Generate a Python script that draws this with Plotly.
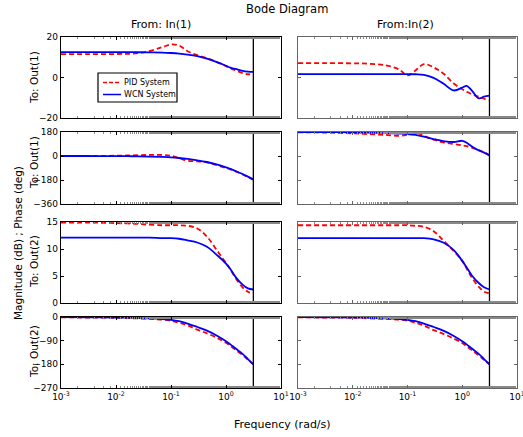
import plotly.graph_objects as go
from plotly.subplots import make_subplots

# ---------------- data ----------------
freq = [0.001, 0.003, 0.01, 0.02, 0.04, 0.07, 0.1, 0.14, 0.2, 0.3, 0.45, 0.7,
        1.0, 1.2, 1.5, 2.0, 2.5, 3.14]
nyquist = 3.1416

# row 1: magnitude Out(1)
mag11_wcn = [12.5, 12.5, 12.5, 12.5, 12.4, 12.3, 12.1, 11.8, 11.3, 10.5, 9.3, 7.5,
             5.8, 4.9, 4.2, 3.3, 2.9, 2.8]
mag11_pid = [11.5, 11.5, 11.6, 11.8, 13.0, 15.0, 16.3, 15.8, 13.0, 11.0, 9.5, 7.5,
             5.6, 4.6, 3.5, 2.2, 1.6, 1.5]
mag12_wcn = [1.7, 1.7, 1.7, 1.7, 1.7, 1.7, 1.7, 1.6, 1.3, -0.2, -3.0, -6.4,
             -5.0, -4.1, -6.5, -10.3, -9.5, -9.0]
mag12_pid = [7.1, 7.1, 7.0, 6.8, 6.0, 4.0, 1.0, 3.5, 6.6, 5.0, 2.0, -3.0,
             -5.8, -7.0, -8.3, -9.5, -10.5, -11.3]
# row 2: phase Out(1)
ph11_wcn = [0, 0, -1, -2, -4, -7, -10, -15, -22, -32, -45, -65,
            -85, -97, -113, -135, -155, -175]
ph11_pid = [0, 0, 2, 5, 8, 8, 2, -15, -35, -40, -48, -70,
            -90, -100, -115, -138, -158, -177]
ph12_wcn = [180, 179, 177, 175, 172, 168, 165, 158, 145, 127, 112, 105,
            114, 100, 72, 42, 25, 5]
ph12_pid = [178, 176, 170, 164, 158, 152, 160, 176, 150, 122, 103, 90,
            80, 74, 62, 45, 28, 5]
# row 3: magnitude Out(2)
mag21_wcn = [12.1, 12.1, 12.1, 12.1, 12.1, 12.0, 12.0, 11.9, 11.6, 11.2, 10.4, 8.8,
             7.3, 6.3, 4.8, 3.4, 2.7, 2.5]
mag21_pid = [14.9, 14.9, 14.8, 14.7, 14.5, 14.4, 14.4, 14.4, 14.3, 13.8, 12.3, 9.6,
             7.4, 6.2, 4.6, 2.9, 2.1, 1.7]
mag22_wcn = [12.0, 12.0, 12.0, 12.0, 12.0, 12.0, 12.0, 12.0, 12.0, 11.8, 11.2, 9.8,
             7.8, 6.6, 5.1, 3.7, 2.9, 2.5]
mag22_pid = [14.4, 14.4, 14.4, 14.4, 14.4, 14.4, 14.4, 14.3, 14.1, 13.3, 11.6, 9.6,
             7.8, 6.4, 4.7, 3.0, 2.1, 1.8]
# row 4: phase Out(2)
ph21_wcn = [0, -1, -2, -3, -5, -8, -11, -16, -25, -38, -52, -72,
            -92, -104, -120, -140, -160, -180]
ph21_pid = [-1, -2, -3, -5, -7, -10, -14, -22, -32, -48, -62, -80,
            -98, -110, -125, -145, -162, -180]
ph22_wcn = [0, -1, -2, -3, -5, -8, -11, -16, -25, -38, -52, -72,
            -92, -104, -120, -140, -160, -180]
ph22_pid = [-1, -2, -3, -5, -7, -10, -14, -22, -33, -50, -64, -82,
            -99, -111, -126, -146, -163, -180]

series_names = ["PID System", "WCN System"]
row_ranges = [[-20, 20], [-360, 180], [0, 15], [-270, 0]]
row_ticks = [[-20, 0, 20], [-360, -180, 0, 180], [0, 5, 10, 15], [-270, -180, -90, 0]]
xtick_vals = [0.001, 0.01, 0.1, 1, 10]
xtick_text = ["10<sup>-3</sup>", "10<sup>-2</sup>", "10<sup>-1</sup>",
              "10<sup>0</sup>", "10<sup>1</sup>"]

panels = [
    (1, 1, mag11_pid, mag11_wcn), (1, 2, mag12_pid, mag12_wcn),
    (2, 1, ph11_pid, ph11_wcn), (2, 2, ph12_pid, ph12_wcn),
    (3, 1, mag21_pid, mag21_wcn), (3, 2, mag22_pid, mag22_wcn),
    (4, 1, ph21_pid, ph21_wcn), (4, 2, ph22_pid, ph22_wcn),
]

W, H = 523, 437
col_px = [(61, 281), (298, 517)]
row_px = [(37, 118), (132, 204), (222, 303), (317, 388)]
PID_STYLE = dict(color="#ff0000", width=1.8, dash="5px,3px")
WCN_STYLE = dict(color="#0000ff", width=1.8)

fig = make_subplots(rows=4, cols=2)
FONT = "DejaVu Sans"

for (r, c, pid, wcn) in panels:
    fig.add_trace(go.Scatter(x=freq, y=pid, mode="lines", name=series_names[0],
                             line=dict(**PID_STYLE, shape="spline"),
                             showlegend=False), row=r, col=c)
    fig.add_trace(go.Scatter(x=freq, y=wcn, mode="lines", name=series_names[1],
                             line=dict(**WCN_STYLE, shape="spline"),
                             showlegend=False), row=r, col=c)
    lo, hi = row_ranges[r - 1]
    fig.add_trace(go.Scatter(x=[nyquist, nyquist], y=[lo, hi], mode="lines",
                             line=dict(color="black", width=1.3), showlegend=False,
                             hoverinfo="skip"), row=r, col=c)

for r in range(1, 5):
    for c in range(1, 3):
        x0, x1 = col_px[c - 1]
        y0, y1 = row_px[r - 1]
        lc = "black" if c == 1 else "#666666"
        fig.update_xaxes(row=r, col=c, type="log", range=[-3, 1],
                         domain=[x0 / W, x1 / W], automargin=False,
                         showgrid=False, zeroline=False,
                         showline=True, mirror="allticks", linecolor=lc, linewidth=1.3,
                         ticks="inside", ticklen=3, tickcolor=lc,
                         tickvals=xtick_vals, ticktext=xtick_text,
                         ticklabeloverflow="allow",
                         showticklabels=(r == 4),
                         minor=dict(ticks="inside", ticklen=1.5, tickcolor="#888888",
                                    tickwidth=0.6, showgrid=False),
                         tickfont=dict(family=FONT, size=9, color="black"))
        fig.update_yaxes(row=r, col=c, range=row_ranges[r - 1],
                         domain=[1 - y1 / H, 1 - y0 / H], automargin=False,
                         tickvals=row_ticks[r - 1],
                         showgrid=False, zeroline=False,
                         showline=True, mirror="allticks", linecolor=lc, linewidth=1.3,
                         ticks="inside", ticklen=3, tickcolor=lc,
                         showticklabels=(c == 1),
                         tickfont=dict(family=FONT, size=9, color="black"))

ann = [
    dict(text="Bode Diagram", x=287 / W, y=1 - 9 / H, size=11.5),
    dict(text="From: In(1)", x=161 / W, y=1 - 24 / H, size=11),
    dict(text="From:In(2)", x=405 / W, y=1 - 24 / H, size=11),
    dict(text="Frequency (rad/s)", x=282 / W, y=1 - 424 / H, size=11),
]
for a in ann:
    fig.add_annotation(text=a["text"], x=a["x"], y=a["y"], xref="paper", yref="paper",
                       showarrow=False, xanchor="center", yanchor="middle",
                       font=dict(family=FONT, size=a["size"], color="black"))

vann = [
    dict(text="To: Out(1)", x=34 / W, y=1 - 78 / H),
    dict(text="To: Out(1)", x=34 / W, y=1 - 163 / H),
    dict(text="To: Out(2)", x=34 / W, y=1 - 262 / H),
    dict(text="To: Out(2)", x=34 / W, y=1 - 352 / H),
]
for a in vann:
    fig.add_annotation(text=a["text"], x=a["x"], y=a["y"], xref="paper", yref="paper",
                       showarrow=False, textangle=-90, xanchor="center", yanchor="middle",
                       font=dict(family=FONT, size=10.5, color="black"))
fig.add_annotation(text="Magnitude (dB) ; Phase (deg)", x=18 / W, y=1 - 243 / H,
                   xref="paper", yref="paper", showarrow=False, textangle=-90,
                   xanchor="center", yanchor="middle",
                   font=dict(family=FONT, size=10.5, color="black"))

# legend box (drawn in paper space to match the compact MATLAB legend)
LX0, LX1, LY0, LY1 = 98, 177, 73, 102
fig.add_shape(type="rect", xref="paper", yref="paper",
              x0=LX0 / W, x1=LX1 / W, y0=1 - LY1 / H, y1=1 - LY0 / H,
              line=dict(color="black", width=1.2), fillcolor="white", layer="above")
for i, (name, sty) in enumerate(zip(series_names, [PID_STYLE, WCN_STYLE])):
    yy = 82.5 + i * 12
    fig.add_shape(type="line", xref="paper", yref="paper",
                  x0=103 / W, x1=121 / W, y0=1 - yy / H, y1=1 - yy / H,
                  line=dict(color=sty["color"], width=1.5,
                            dash="4px,2px" if "dash" in sty else "solid"), layer="above")
    fig.add_annotation(text=name, x=122 / W, y=1 - yy / H, xref="paper", yref="paper",
                       showarrow=False, xanchor="left", yanchor="middle",
                       font=dict(family=FONT, size=8, color="black"))

fig.update_layout(
    width=W, height=H,
    margin=dict(l=0, r=0, t=0, b=0, autoexpand=False),
    paper_bgcolor="white", plot_bgcolor="white",
    font=dict(family=FONT, color="black"),
    showlegend=False,
)

fig.write_html("out.html", config={"displayModeBar": False},
               post_script="document.body.style.margin='0px';document.body.style.padding='0px';document.body.style.overflow='hidden';")
